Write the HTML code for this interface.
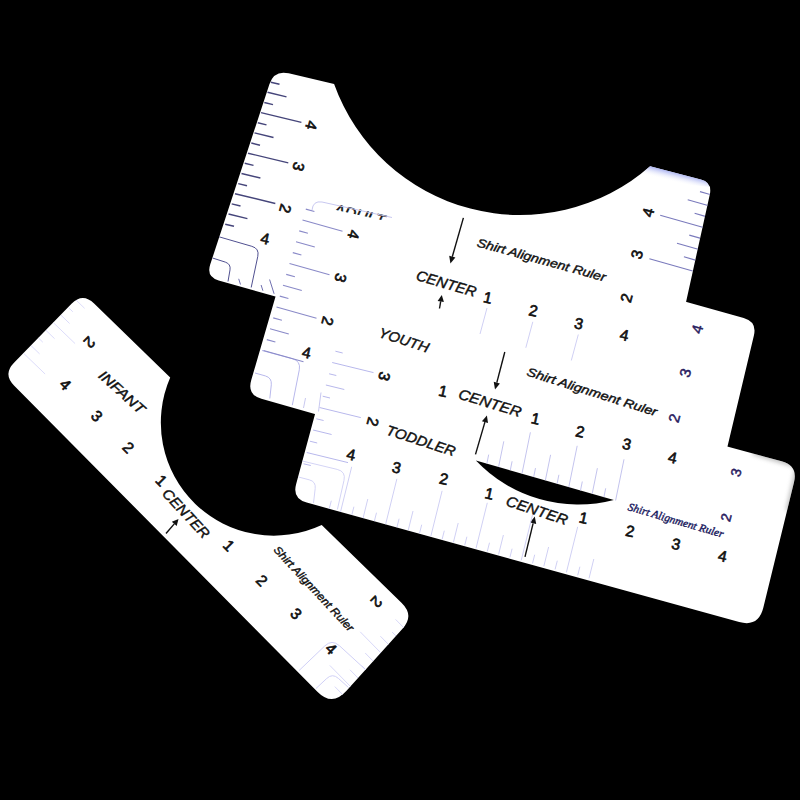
<!DOCTYPE html>
<html><head><meta charset="utf-8"><style>
html,body{margin:0;padding:0;background:#000;width:800px;height:800px;overflow:hidden}
svg{display:block}
text{font-family:"Liberation Sans",sans-serif}
</style></head><body>
<svg width="800" height="800" viewBox="0 0 800 800">
<rect width="800" height="800" fill="#000"/>
<g fill="#fff">
<path d="M269.4,84.2 Q274.1,69.9 288.7,73.3 L334.1,83.9 A197.6 197.6 0 0 0 650.1,166.3 L700.8,179.6 Q712.4,182.7 709.8,194.4 L660.0,420.0 L320.0,309.0 L218.7,280.5 Q206.2,277.0 210.2,264.6 Z"/>
<path d="M305.0,195.0 L743.7,318.1 Q757.1,321.9 753.9,335.5 L720.7,475.0 L690.0,521.0 L261.4,398.8 Q247.0,394.7 251.2,380.3 Z"/>
<path d="M335.0,340.0 L781.7,461.3 Q798.1,465.8 794.0,482.3 L763.3,607.8 Q758.5,627.3 739.2,622.0 L306.7,502.6 Q292.2,498.7 296.1,484.2 Z"/>
<path d="M71.5,303.8 Q82.7,292.3 94.1,303.5 L170.2,377.6 A113 113 0 0 0 321.7,525.0 L401.7,602.9 Q414.6,615.5 402.5,628.8 L346.3,691.1 Q332.2,706.7 317.4,691.7 L14.0,385.5 Q2.8,374.1 14.0,362.7 Z"/>
</g>
<path fill="#000" d="M475.9,460.5 L613.8,500.1 A141.2 141.2 0 0 1 475.9,460.5 Z"/>
<defs>
<clipPath id="cpA"><path d="M269.4,84.2 Q274.1,69.9 288.7,73.3 L334.1,83.9 A197.6 197.6 0 0 0 650.1,166.3 L700.8,179.6 Q712.4,182.7 709.8,194.4 L660.0,420.0 L320.0,309.0 L218.7,280.5 Q206.2,277.0 210.2,264.6 Z"/></clipPath>
<clipPath id="cpT"><path d="M335.0,340.0 L781.7,461.3 Q798.1,465.8 794.0,482.3 L763.3,607.8 Q758.5,627.3 739.2,622.0 L306.7,502.6 Q292.2,498.7 296.1,484.2 Z"/></clipPath>
<clipPath id="cpAll"><path d="M269.4,84.2 Q274.1,69.9 288.7,73.3 L334.1,83.9 A197.6 197.6 0 0 0 650.1,166.3 L700.8,179.6 Q712.4,182.7 709.8,194.4 L660.0,420.0 L320.0,309.0 L218.7,280.5 Q206.2,277.0 210.2,264.6 Z"/><path d="M305.0,195.0 L743.7,318.1 Q757.1,321.9 753.9,335.5 L720.7,475.0 L690.0,521.0 L261.4,398.8 Q247.0,394.7 251.2,380.3 Z"/><path d="M335.0,340.0 L781.7,461.3 Q798.1,465.8 794.0,482.3 L763.3,607.8 Q758.5,627.3 739.2,622.0 L306.7,502.6 Q292.2,498.7 296.1,484.2 Z"/><path d="M71.5,303.8 Q82.7,292.3 94.1,303.5 L170.2,377.6 A113 113 0 0 0 321.7,525.0 L401.7,602.9 Q414.6,615.5 402.5,628.8 L346.3,691.1 Q332.2,706.7 317.4,691.7 L14.0,385.5 Q2.8,374.1 14.0,362.7 Z"/></clipPath>
<linearGradient id="gSh" gradientUnits="userSpaceOnUse" x1="676" y1="172" x2="673.5" y2="182"><stop offset="0" stop-color="#9ea8f0"/><stop offset="1" stop-color="#ffffff" stop-opacity="0"/></linearGradient>
<filter id="bl" x="-20%" y="-20%" width="140%" height="140%"><feGaussianBlur stdDeviation="2.2"/></filter>
</defs>
<g clip-path="url(#cpA)"><path d="M640,160 L715,180 L712,187 L640,180 Z" fill="url(#gSh)"/></g>
<g clip-path="url(#cpT)"><path d="M753.1,452.3 L798.1,465.8 L788.1,510.8" fill="none" stroke="#808080" stroke-width="5" opacity="0.5" filter="url(#bl)"/></g>
<g clip-path="url(#cpAll)">
<line x1="270.8" y1="82.2" x2="279.5" y2="84.3" stroke="#45457a" stroke-width="1.4"/>
<line x1="267.5" y1="92.3" x2="286.5" y2="96.9" stroke="#45457a" stroke-width="1.4"/>
<line x1="264.3" y1="102.5" x2="273.0" y2="104.6" stroke="#45457a" stroke-width="1.4"/>
<line x1="261.0" y1="112.6" x2="301.4" y2="122.4" stroke="#45457a" stroke-width="1.4"/>
<line x1="257.8" y1="122.8" x2="266.5" y2="124.9" stroke="#45457a" stroke-width="1.4"/>
<line x1="254.5" y1="132.9" x2="273.5" y2="137.5" stroke="#45457a" stroke-width="1.4"/>
<line x1="251.3" y1="143.0" x2="260.0" y2="145.2" stroke="#45457a" stroke-width="1.4"/>
<line x1="248.0" y1="153.2" x2="288.3" y2="162.9" stroke="#45457a" stroke-width="1.4"/>
<line x1="244.7" y1="163.3" x2="253.5" y2="165.4" stroke="#45457a" stroke-width="1.4"/>
<line x1="241.5" y1="173.5" x2="260.4" y2="178.0" stroke="#45457a" stroke-width="1.4"/>
<line x1="238.2" y1="183.6" x2="247.0" y2="185.7" stroke="#45457a" stroke-width="1.4"/>
<line x1="235.0" y1="193.7" x2="275.3" y2="203.5" stroke="#45457a" stroke-width="1.4"/>
<line x1="231.7" y1="203.9" x2="240.5" y2="206.0" stroke="#45457a" stroke-width="1.4"/>
<line x1="228.5" y1="214.0" x2="247.4" y2="218.6" stroke="#45457a" stroke-width="1.4"/>
<line x1="225.2" y1="224.2" x2="234.0" y2="226.3" stroke="#45457a" stroke-width="1.4"/>
<text transform="translate(311.4,125.3) rotate(105)" font-size="15.5" font-weight="normal" fill="#111" stroke="#111" stroke-width="0.65" text-anchor="middle" dominant-baseline="central">4</text>
<text transform="translate(298.6,166.5) rotate(105)" font-size="15.5" font-weight="normal" fill="#111" stroke="#111" stroke-width="0.65" text-anchor="middle" dominant-baseline="central">3</text>
<text transform="translate(285.4,208.5) rotate(105)" font-size="15.5" font-weight="normal" fill="#111" stroke="#111" stroke-width="0.65" text-anchor="middle" dominant-baseline="central">2</text>
<text transform="translate(265,238.5) rotate(12)" font-size="15.5" font-weight="normal" fill="#111" stroke="#111" stroke-width="0.65" text-anchor="middle" dominant-baseline="central">4</text>
<line x1="711.6" y1="194.9" x2="700.0" y2="191.6" stroke="#7a7abc" stroke-width="1.1"/>
<line x1="708.9" y1="205.8" x2="687.7" y2="199.7" stroke="#7a7abc" stroke-width="1.1"/>
<line x1="706.2" y1="216.6" x2="694.6" y2="213.3" stroke="#7a7abc" stroke-width="1.1"/>
<line x1="703.5" y1="227.5" x2="660.2" y2="215.2" stroke="#7a7abc" stroke-width="1.1"/>
<line x1="700.8" y1="238.4" x2="689.3" y2="235.1" stroke="#7a7abc" stroke-width="1.1"/>
<line x1="698.1" y1="249.2" x2="677.0" y2="243.2" stroke="#7a7abc" stroke-width="1.1"/>
<line x1="695.4" y1="260.1" x2="683.9" y2="256.8" stroke="#7a7abc" stroke-width="1.1"/>
<line x1="692.7" y1="271.0" x2="649.4" y2="258.7" stroke="#7a7abc" stroke-width="1.1"/>
<text transform="translate(648,212.5) rotate(-75)" font-size="15.5" font-weight="normal" fill="#111" stroke="#111" stroke-width="0.65" text-anchor="middle" dominant-baseline="central">4</text>
<text transform="translate(636.75,254.5) rotate(-75)" font-size="15.5" font-weight="normal" fill="#111" stroke="#111" stroke-width="0.65" text-anchor="middle" dominant-baseline="central">3</text>
<text transform="translate(626.25,298) rotate(-75)" font-size="15.5" font-weight="normal" fill="#111" stroke="#111" stroke-width="0.65" text-anchor="middle" dominant-baseline="central">2</text>
<text transform="translate(541.4,260) rotate(15.4)" font-size="12" font-weight="normal" font-style="italic" fill="#111" stroke="#111" stroke-width="0.4" text-anchor="middle" dominant-baseline="central" textLength="133" lengthAdjust="spacingAndGlyphs">Shirt Alignment Ruler</text>
<text transform="translate(446.3,283.6) rotate(16)" font-size="14.5" font-weight="normal" font-style="italic" fill="#111" stroke="#111" stroke-width="0.4" text-anchor="middle" dominant-baseline="central" textLength="62" lengthAdjust="spacingAndGlyphs">CENTER</text>
<line x1="463.4" y1="217.9" x2="452.3" y2="256.7" stroke="#111" stroke-width="1.4"/>
<path d="M450.4,263.4 L449.2,255.8 L455.4,257.5 Z" fill="#111"/>
<line x1="439.5" y1="308.5" x2="440.7" y2="301.4" stroke="#111" stroke-width="1.4"/>
<path d="M441.8,295.0 L443.9,301.9 L437.6,300.9 Z" fill="#111"/>
<text transform="translate(487.75,297.5) rotate(12)" font-size="15.5" font-weight="normal" fill="#111" stroke="#111" stroke-width="0.65" text-anchor="middle" dominant-baseline="central">1</text>
<text transform="translate(533.25,310.5) rotate(12)" font-size="15.5" font-weight="normal" fill="#111" stroke="#111" stroke-width="0.65" text-anchor="middle" dominant-baseline="central">2</text>
<text transform="translate(578.75,323.5) rotate(12)" font-size="15.5" font-weight="normal" fill="#111" stroke="#111" stroke-width="0.65" text-anchor="middle" dominant-baseline="central">3</text>
<text transform="translate(624.25,335) rotate(12)" font-size="15.5" font-weight="normal" fill="#111" stroke="#111" stroke-width="0.65" text-anchor="middle" dominant-baseline="central">4</text>
<line x1="305.8" y1="209.1" x2="314.4" y2="211.5" stroke="#8a8ac8" stroke-width="1.1"/>
<line x1="302.5" y1="220.0" x2="342.5" y2="231.2" stroke="#8a8ac8" stroke-width="1.1"/>
<line x1="299.2" y1="230.9" x2="307.9" y2="233.3" stroke="#8a8ac8" stroke-width="1.1"/>
<line x1="296.0" y1="241.8" x2="314.8" y2="247.0" stroke="#8a8ac8" stroke-width="1.1"/>
<line x1="292.8" y1="252.6" x2="301.4" y2="255.0" stroke="#8a8ac8" stroke-width="1.1"/>
<line x1="289.5" y1="263.5" x2="329.5" y2="274.7" stroke="#8a8ac8" stroke-width="1.1"/>
<line x1="286.2" y1="274.4" x2="294.9" y2="276.8" stroke="#8a8ac8" stroke-width="1.1"/>
<line x1="283.0" y1="285.2" x2="301.8" y2="290.5" stroke="#8a8ac8" stroke-width="1.1"/>
<line x1="279.8" y1="296.1" x2="288.4" y2="298.5" stroke="#8a8ac8" stroke-width="1.1"/>
<line x1="276.5" y1="307.0" x2="316.5" y2="318.2" stroke="#8a8ac8" stroke-width="1.1"/>
<line x1="273.2" y1="317.9" x2="281.9" y2="320.3" stroke="#8a8ac8" stroke-width="1.1"/>
<text transform="translate(353.7,234.7) rotate(105)" font-size="15.5" font-weight="normal" fill="#111" stroke="#111" stroke-width="0.65" text-anchor="middle" dominant-baseline="central">4</text>
<text transform="translate(340.7,277.75) rotate(105)" font-size="15.5" font-weight="normal" fill="#111" stroke="#111" stroke-width="0.65" text-anchor="middle" dominant-baseline="central">3</text>
<text transform="translate(327.6,321.1) rotate(105)" font-size="15.5" font-weight="normal" fill="#111" stroke="#111" stroke-width="0.65" text-anchor="middle" dominant-baseline="central">2</text>
<text transform="translate(306.5,352.5) rotate(12)" font-size="15.5" font-weight="normal" fill="#111" stroke="#111" stroke-width="0.65" text-anchor="middle" dominant-baseline="central">4</text>
<text transform="translate(404,340) rotate(18)" font-size="14" font-weight="normal" font-style="italic" fill="#111" stroke="#111" stroke-width="0.4" text-anchor="middle" dominant-baseline="central" textLength="52" lengthAdjust="spacingAndGlyphs">YOUTH</text>
<text transform="translate(443,391) rotate(12)" font-size="15.5" font-weight="normal" fill="#111" stroke="#111" stroke-width="0.65" text-anchor="middle" dominant-baseline="central">1</text>
<text transform="translate(490,403) rotate(17)" font-size="14.5" font-weight="normal" font-style="italic" fill="#111" stroke="#111" stroke-width="0.4" text-anchor="middle" dominant-baseline="central" textLength="65" lengthAdjust="spacingAndGlyphs">CENTER</text>
<line x1="504.8" y1="352.0" x2="496.8" y2="382.6" stroke="#111" stroke-width="1.4"/>
<path d="M495.0,389.4 L493.7,381.8 L499.9,383.4 Z" fill="#111"/>
<line x1="475.5" y1="454.4" x2="484.9" y2="422.1" stroke="#111" stroke-width="1.4"/>
<path d="M486.9,415.4 L488.0,423.0 L481.9,421.2 Z" fill="#111"/>
<text transform="translate(592,392) rotate(17.5)" font-size="12" font-weight="normal" font-style="italic" fill="#111" stroke="#111" stroke-width="0.4" text-anchor="middle" dominant-baseline="central" textLength="136" lengthAdjust="spacingAndGlyphs">Shirt Alignment Ruler</text>
<text transform="translate(535.6,418.6) rotate(12)" font-size="15.5" font-weight="normal" fill="#111" stroke="#111" stroke-width="0.65" text-anchor="middle" dominant-baseline="central">1</text>
<text transform="translate(580,431.5) rotate(12)" font-size="15.5" font-weight="normal" fill="#111" stroke="#111" stroke-width="0.65" text-anchor="middle" dominant-baseline="central">2</text>
<text transform="translate(626.75,444) rotate(12)" font-size="15.5" font-weight="normal" fill="#111" stroke="#111" stroke-width="0.65" text-anchor="middle" dominant-baseline="central">3</text>
<text transform="translate(672.5,457.5) rotate(12)" font-size="15.5" font-weight="normal" fill="#111" stroke="#111" stroke-width="0.65" text-anchor="middle" dominant-baseline="central">4</text>
<text transform="translate(696.9,329) rotate(-75)" font-size="15" font-weight="normal" fill="#2a2060" stroke="#2a2060" stroke-width="0.5" text-anchor="middle" dominant-baseline="central">4</text>
<text transform="translate(685,372.7) rotate(-75)" font-size="15" font-weight="normal" fill="#2a2060" stroke="#2a2060" stroke-width="0.5" text-anchor="middle" dominant-baseline="central">3</text>
<text transform="translate(674,418) rotate(-75)" font-size="15" font-weight="normal" fill="#2a2060" stroke="#2a2060" stroke-width="0.5" text-anchor="middle" dominant-baseline="central">2</text>
<text transform="translate(384.5,376.4) rotate(105)" font-size="15.5" font-weight="normal" fill="#111" stroke="#111" stroke-width="0.65" text-anchor="middle" dominant-baseline="central">3</text>
<text transform="translate(373,421.9) rotate(105)" font-size="15.5" font-weight="normal" fill="#111" stroke="#111" stroke-width="0.65" text-anchor="middle" dominant-baseline="central">2</text>
<text transform="translate(421,440.5) rotate(18)" font-size="14" font-weight="normal" font-style="italic" fill="#111" stroke="#111" stroke-width="0.4" text-anchor="middle" dominant-baseline="central" textLength="72" lengthAdjust="spacingAndGlyphs">TODDLER</text>
<text transform="translate(351,454.4) rotate(12)" font-size="15.5" font-weight="normal" fill="#111" stroke="#111" stroke-width="0.65" text-anchor="middle" dominant-baseline="central">4</text>
<text transform="translate(396.6,467.4) rotate(12)" font-size="15.5" font-weight="normal" fill="#111" stroke="#111" stroke-width="0.65" text-anchor="middle" dominant-baseline="central">3</text>
<text transform="translate(443.75,478.75) rotate(12)" font-size="15.5" font-weight="normal" fill="#111" stroke="#111" stroke-width="0.65" text-anchor="middle" dominant-baseline="central">2</text>
<text transform="translate(489.25,493.4) rotate(12)" font-size="15.5" font-weight="normal" fill="#111" stroke="#111" stroke-width="0.65" text-anchor="middle" dominant-baseline="central">1</text>
<text transform="translate(537,510.5) rotate(18)" font-size="14.5" font-weight="normal" font-style="italic" fill="#111" stroke="#111" stroke-width="0.4" text-anchor="middle" dominant-baseline="central" textLength="64" lengthAdjust="spacingAndGlyphs">CENTER</text>
<line x1="525.0" y1="556.8" x2="533.1" y2="523.3" stroke="#111" stroke-width="1.4"/>
<path d="M534.8,516.5 L536.2,524.1 L530.0,522.5 Z" fill="#111"/>
<text transform="translate(583.5,517.75) rotate(12)" font-size="15.5" font-weight="normal" fill="#111" stroke="#111" stroke-width="0.65" text-anchor="middle" dominant-baseline="central">1</text>
<text transform="translate(630,531) rotate(12)" font-size="15.5" font-weight="normal" fill="#111" stroke="#111" stroke-width="0.65" text-anchor="middle" dominant-baseline="central">2</text>
<text transform="translate(676,544) rotate(12)" font-size="15.5" font-weight="normal" fill="#111" stroke="#111" stroke-width="0.65" text-anchor="middle" dominant-baseline="central">3</text>
<text transform="translate(722.5,556) rotate(12)" font-size="15.5" font-weight="normal" fill="#111" stroke="#111" stroke-width="0.65" text-anchor="middle" dominant-baseline="central">4</text>
<text transform="translate(676,520) rotate(16.3)" font-size="11" font-weight="normal" font-style="italic" fill="#1a1a60" stroke="#1a1a60" stroke-width="0.4" text-anchor="middle" dominant-baseline="central" textLength="99" lengthAdjust="spacingAndGlyphs" style="font-family:'Liberation Serif',serif">Shirt Alignment Ruler</text>
<text transform="translate(736,472.5) rotate(-75)" font-size="14" font-weight="normal" fill="#2a2060" stroke="#2a2060" stroke-width="0.5" text-anchor="middle" dominant-baseline="central">3</text>
<text transform="translate(726,517.5) rotate(-75)" font-size="14" font-weight="normal" fill="#2a2060" stroke="#2a2060" stroke-width="0.5" text-anchor="middle" dominant-baseline="central">2</text>
<text transform="translate(89.5,342.5) rotate(135)" font-size="15.5" font-weight="normal" fill="#111" stroke="#111" stroke-width="0.65" text-anchor="middle" dominant-baseline="central">2</text>
<text transform="translate(122,392) rotate(42)" font-size="14" font-weight="normal" font-style="italic" fill="#111" stroke="#111" stroke-width="0.4" text-anchor="middle" dominant-baseline="central" textLength="57" lengthAdjust="spacingAndGlyphs">INFANT</text>
<text transform="translate(65.5,384.5) rotate(45)" font-size="15.5" font-weight="normal" fill="#111" stroke="#111" stroke-width="0.65" text-anchor="middle" dominant-baseline="central">4</text>
<text transform="translate(97,416) rotate(45)" font-size="15.5" font-weight="normal" fill="#111" stroke="#111" stroke-width="0.65" text-anchor="middle" dominant-baseline="central">3</text>
<text transform="translate(128.5,447.5) rotate(45)" font-size="15.5" font-weight="normal" fill="#111" stroke="#111" stroke-width="0.65" text-anchor="middle" dominant-baseline="central">2</text>
<text transform="translate(161.5,480.5) rotate(45)" font-size="15.5" font-weight="normal" fill="#111" stroke="#111" stroke-width="0.65" text-anchor="middle" dominant-baseline="central">1</text>
<text transform="translate(186,513.5) rotate(47)" font-size="14.5" font-weight="normal" font-style="italic" fill="#111" stroke="#111" stroke-width="0.4" text-anchor="middle" dominant-baseline="central" textLength="62" lengthAdjust="spacingAndGlyphs">CENTER</text>
<line x1="166.0" y1="533.5" x2="174.3" y2="523.9" stroke="#111" stroke-width="1.4"/>
<path d="M178.5,519.0 L176.7,526.0 L171.8,521.8 Z" fill="#111"/>
<text transform="translate(229,545.5) rotate(45)" font-size="15.5" font-weight="normal" fill="#111" stroke="#111" stroke-width="0.65" text-anchor="middle" dominant-baseline="central">1</text>
<text transform="translate(262,580.3) rotate(45)" font-size="15.5" font-weight="normal" fill="#111" stroke="#111" stroke-width="0.65" text-anchor="middle" dominant-baseline="central">2</text>
<text transform="translate(296.2,613.6) rotate(45)" font-size="15.5" font-weight="normal" fill="#111" stroke="#111" stroke-width="0.65" text-anchor="middle" dominant-baseline="central">3</text>
<text transform="translate(331.2,648.7) rotate(45)" font-size="15.5" font-weight="normal" fill="#111" stroke="#111" stroke-width="0.65" text-anchor="middle" dominant-baseline="central">4</text>
<text transform="translate(376.5,602) rotate(135)" font-size="15.5" font-weight="normal" fill="#111" stroke="#111" stroke-width="0.65" text-anchor="middle" dominant-baseline="central">2</text>
<text transform="translate(314,588.5) rotate(47)" font-size="11" font-weight="normal" font-style="italic" fill="#111" stroke="#111" stroke-width="0.4" text-anchor="middle" dominant-baseline="central" textLength="112" lengthAdjust="spacingAndGlyphs">Shirt Alignment Ruler</text>
<line x1="329.1" y1="509.4" x2="331.3" y2="500.7" stroke="#d0d0f4" stroke-width="1.0"/>
<line x1="340.4" y1="512.4" x2="351.7" y2="466.8" stroke="#d0d0f4" stroke-width="1.0"/>
<line x1="351.7" y1="515.4" x2="353.9" y2="506.7" stroke="#d0d0f4" stroke-width="1.0"/>
<line x1="363.0" y1="518.4" x2="367.8" y2="499.0" stroke="#d0d0f4" stroke-width="1.0"/>
<line x1="374.3" y1="521.4" x2="376.5" y2="512.7" stroke="#d0d0f4" stroke-width="1.0"/>
<line x1="385.6" y1="524.4" x2="396.9" y2="478.8" stroke="#d0d0f4" stroke-width="1.0"/>
<line x1="396.9" y1="527.4" x2="399.1" y2="518.7" stroke="#d0d0f4" stroke-width="1.0"/>
<line x1="408.2" y1="530.4" x2="413.0" y2="511.0" stroke="#d0d0f4" stroke-width="1.0"/>
<line x1="419.5" y1="533.4" x2="421.7" y2="524.7" stroke="#d0d0f4" stroke-width="1.0"/>
<line x1="430.8" y1="536.4" x2="442.1" y2="490.8" stroke="#d0d0f4" stroke-width="1.0"/>
<line x1="442.1" y1="539.4" x2="444.3" y2="530.7" stroke="#d0d0f4" stroke-width="1.0"/>
<line x1="453.4" y1="542.4" x2="458.2" y2="523.0" stroke="#d0d0f4" stroke-width="1.0"/>
<line x1="464.7" y1="545.4" x2="466.9" y2="536.7" stroke="#d0d0f4" stroke-width="1.0"/>
<line x1="476.0" y1="548.4" x2="487.3" y2="502.8" stroke="#d0d0f4" stroke-width="1.0"/>
<line x1="487.3" y1="551.4" x2="489.5" y2="542.7" stroke="#d0d0f4" stroke-width="1.0"/>
<line x1="498.6" y1="554.4" x2="503.4" y2="535.0" stroke="#d0d0f4" stroke-width="1.0"/>
<line x1="509.9" y1="557.4" x2="512.1" y2="548.7" stroke="#d0d0f4" stroke-width="1.0"/>
<line x1="521.2" y1="560.4" x2="532.5" y2="514.8" stroke="#d0d0f4" stroke-width="1.0"/>
<line x1="532.5" y1="563.4" x2="534.7" y2="554.7" stroke="#d0d0f4" stroke-width="1.0"/>
<line x1="543.8" y1="566.4" x2="548.6" y2="547.0" stroke="#d0d0f4" stroke-width="1.0"/>
<line x1="555.1" y1="569.4" x2="557.3" y2="560.7" stroke="#d0d0f4" stroke-width="1.0"/>
<line x1="566.4" y1="572.4" x2="577.7" y2="526.8" stroke="#d0d0f4" stroke-width="1.0"/>
<line x1="577.7" y1="575.4" x2="579.9" y2="566.7" stroke="#d0d0f4" stroke-width="1.0"/>
<line x1="589.0" y1="578.4" x2="593.8" y2="559.0" stroke="#d0d0f4" stroke-width="1.0"/>
<path d="M302.3,461.0 L337.2,469.4 Q346.0,471.5 344.0,480.3 L337.4,509.5" fill="none" stroke="#d4d4f6" stroke-width="1.0"/>
<path d="M298.5,477.0 L309.2,479.8 Q316.0,481.5 315.2,488.5 L313.5,503.0" fill="none" stroke="#d4d4f6" stroke-width="1.0"/>
<path d="M262.0,350.5 L292.3,358.7 Q301.0,361.0 299.3,369.8 L292.3,405.2" fill="none" stroke="#b8b8ec" stroke-width="1.0"/>
<path d="M255.0,373.0 L265.3,375.9 Q272.0,377.8 271.3,384.8 L269.8,398.5" fill="none" stroke="#b8b8ec" stroke-width="1.0"/>
<line x1="335.4" y1="351.2" x2="342.7" y2="353.0" stroke="#b8b8ec" stroke-width="1.0"/>
<line x1="332.2" y1="362.5" x2="373.5" y2="372.6" stroke="#b8b8ec" stroke-width="1.0"/>
<line x1="329.1" y1="373.8" x2="336.3" y2="375.5" stroke="#b8b8ec" stroke-width="1.0"/>
<line x1="325.9" y1="385.0" x2="344.3" y2="389.5" stroke="#b8b8ec" stroke-width="1.0"/>
<line x1="322.7" y1="396.2" x2="330.0" y2="398.0" stroke="#b8b8ec" stroke-width="1.0"/>
<line x1="319.5" y1="407.5" x2="360.8" y2="417.6" stroke="#b8b8ec" stroke-width="1.0"/>
<line x1="316.3" y1="418.8" x2="323.6" y2="420.5" stroke="#b8b8ec" stroke-width="1.0"/>
<line x1="313.1" y1="430.0" x2="331.6" y2="434.5" stroke="#b8b8ec" stroke-width="1.0"/>
<line x1="309.9" y1="441.2" x2="317.2" y2="443.0" stroke="#b8b8ec" stroke-width="1.0"/>
<line x1="306.7" y1="452.5" x2="348.0" y2="462.6" stroke="#b8b8ec" stroke-width="1.0"/>
<line x1="303.5" y1="463.8" x2="310.8" y2="465.5" stroke="#b8b8ec" stroke-width="1.0"/>
<line x1="321.0" y1="392.5" x2="318.5" y2="411.5" stroke="#c8c8f0" stroke-width="1.0"/>
<line x1="305.5" y1="398.0" x2="303.5" y2="408.0" stroke="#c8c8f0" stroke-width="1.0"/>
<path d="M218.0,236.5 L251.8,246.3 Q259.5,248.5 257.8,256.3 L251.2,287.5" fill="none" stroke="#505090" stroke-width="1.0"/>
<path d="M212.5,258.0 L225.3,262.1 Q231.0,264.0 230.0,269.9 L228.0,281.5" fill="none" stroke="#505090" stroke-width="1.0"/>
<line x1="240.5" y1="284.5" x2="238.7" y2="278.8" stroke="#7070b0" stroke-width="1.0"/>
<line x1="262.9" y1="290.7" x2="261.1" y2="285.0" stroke="#7070b0" stroke-width="1.0"/>
<line x1="274.1" y1="293.8" x2="269.6" y2="279.5" stroke="#7070b0" stroke-width="1.0"/>
<line x1="270.0" y1="328.8" x2="288.8" y2="334.0" stroke="#8a8ac8" stroke-width="1.1"/>
<line x1="266.8" y1="339.6" x2="275.4" y2="342.0" stroke="#8a8ac8" stroke-width="1.1"/>
<line x1="263.5" y1="350.5" x2="303.5" y2="361.7" stroke="#8a8ac8" stroke-width="1.1"/>
<line x1="76.0" y1="300.0" x2="84.6" y2="308.3" stroke="#dcdcfa" stroke-width="1.0"/>
<line x1="68.5" y1="307.6" x2="72.8" y2="311.8" stroke="#dcdcfa" stroke-width="1.0"/>
<line x1="61.0" y1="315.2" x2="69.6" y2="323.5" stroke="#dcdcfa" stroke-width="1.0"/>
<line x1="53.5" y1="322.8" x2="75.1" y2="343.6" stroke="#dcdcfa" stroke-width="1.0"/>
<line x1="46.0" y1="330.4" x2="54.6" y2="338.7" stroke="#dcdcfa" stroke-width="1.0"/>
<line x1="38.5" y1="338.0" x2="42.8" y2="342.2" stroke="#dcdcfa" stroke-width="1.0"/>
<line x1="31.0" y1="345.6" x2="39.6" y2="353.9" stroke="#dcdcfa" stroke-width="1.0"/>
<line x1="23.5" y1="353.2" x2="45.1" y2="374.0" stroke="#dcdcfa" stroke-width="1.0"/>
<line x1="404.0" y1="628.0" x2="395.6" y2="619.4" stroke="#d8d8f8" stroke-width="1.0"/>
<line x1="396.4" y1="636.4" x2="392.2" y2="632.1" stroke="#d8d8f8" stroke-width="1.0"/>
<line x1="388.8" y1="644.8" x2="380.4" y2="636.2" stroke="#d8d8f8" stroke-width="1.0"/>
<line x1="381.2" y1="653.2" x2="360.2" y2="631.8" stroke="#d8d8f8" stroke-width="1.0"/>
<line x1="373.6" y1="661.6" x2="365.2" y2="653.0" stroke="#d8d8f8" stroke-width="1.0"/>
<line x1="366.0" y1="670.0" x2="361.8" y2="665.7" stroke="#d8d8f8" stroke-width="1.0"/>
<line x1="358.4" y1="678.4" x2="350.0" y2="669.8" stroke="#d8d8f8" stroke-width="1.0"/>
<line x1="350.8" y1="686.8" x2="329.8" y2="665.4" stroke="#d8d8f8" stroke-width="1.0"/>
<line x1="343.2" y1="695.2" x2="334.8" y2="686.6" stroke="#d8d8f8" stroke-width="1.0"/>
<path d="M299.0,670.6 L324.8,645.9 Q332.0,639.0 339.4,645.7 L365.4,669.5" fill="none" stroke="#d0d0f6" stroke-width="1.0"/>
<path d="M315.9,688.6 L326.7,678.5 Q332.5,673.0 338.4,678.4 L348.5,687.5" fill="none" stroke="#d0d0f6" stroke-width="1.0"/>
<line x1="486.9" y1="463.4" x2="488.7" y2="454.6" stroke="#c4c4ee" stroke-width="1.0"/>
<line x1="498.6" y1="466.8" x2="503.8" y2="441.3" stroke="#c4c4ee" stroke-width="1.0"/>
<line x1="510.3" y1="470.1" x2="512.1" y2="461.3" stroke="#c4c4ee" stroke-width="1.0"/>
<line x1="522.0" y1="473.5" x2="530.4" y2="432.3" stroke="#c4c4ee" stroke-width="1.0"/>
<line x1="533.7" y1="476.9" x2="535.5" y2="468.1" stroke="#c4c4ee" stroke-width="1.0"/>
<line x1="545.4" y1="480.2" x2="550.6" y2="454.8" stroke="#c4c4ee" stroke-width="1.0"/>
<line x1="557.1" y1="483.6" x2="558.9" y2="474.8" stroke="#c4c4ee" stroke-width="1.0"/>
<line x1="568.8" y1="487.0" x2="577.2" y2="445.8" stroke="#c4c4ee" stroke-width="1.0"/>
<line x1="580.5" y1="490.4" x2="582.3" y2="481.5" stroke="#c4c4ee" stroke-width="1.0"/>
<line x1="592.2" y1="493.7" x2="597.4" y2="468.2" stroke="#c4c4ee" stroke-width="1.0"/>
<line x1="603.9" y1="497.1" x2="605.7" y2="488.3" stroke="#c4c4ee" stroke-width="1.0"/>
<line x1="615.6" y1="500.5" x2="624.0" y2="459.3" stroke="#c4c4ee" stroke-width="1.0"/>
<line x1="487.0" y1="308.0" x2="480.0" y2="334.0" stroke="#d0d0f4" stroke-width="1.0"/>
<line x1="532.8" y1="321.8" x2="525.8" y2="347.8" stroke="#d0d0f4" stroke-width="1.0"/>
<line x1="578.3" y1="334.5" x2="571.3" y2="360.5" stroke="#d0d0f4" stroke-width="1.0"/>
<clipPath id="adc"><path d="M300,196 L420,222.4 L420,228.4 L300,202 Z"/></clipPath>
<g clip-path="url(#adc)">
<text transform="translate(359.5,214.5) rotate(13)" font-size="15" font-weight="normal" font-style="italic" fill="#111" stroke="#111" stroke-width="0.4" text-anchor="middle" dominant-baseline="central" textLength="52" lengthAdjust="spacingAndGlyphs">ADULT</text>
</g>
<path d="M312,210 Q313,200.5 322,202 L392,217.5" fill="none" stroke="#c8c8f0" stroke-width="1"/>
</g>
</svg>
</body></html>
